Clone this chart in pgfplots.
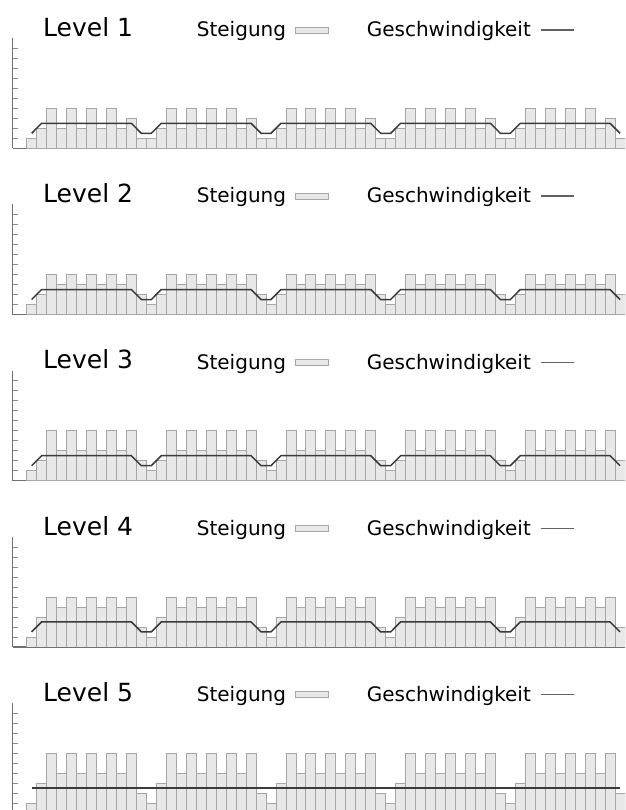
\documentclass[border=0pt]{standalone}
\usepackage{fontspec}
\setmainfont{DejaVu Sans}
\usepackage{pgfplots}
\usepackage{pgfplotstable}
\pgfplotsset{compat=1.18}

\definecolor{barfill}{HTML}{E8E8E8}
\definecolor{baredge}{HTML}{A6A6A6}
\definecolor{speed}{HTML}{3A3A3A}
\definecolor{axisgray}{HTML}{707070}
\definecolor{tickgray}{HTML}{8C8C8C}

\newcommand\titlefont{\fontsize{25}{30}\selectfont}
\newcommand\legfont{\fontsize{20}{24}\selectfont}

% x: Abschnitt, L1..L5: Steigung je Level, v: Geschwindigkeit (Level 1-4), vf: Level 5
\pgfplotstableread{
x  L1 L2 L3 L4 L5 v   vf
0  1  1  1  1  1  1.5 2.5
1  2  2  2  3  3  2.5 2.5
2  4  4  5  5  6  2.5 2.5
3  2  3  3  4  4  2.5 2.5
4  4  4  5  5  6  2.5 2.5
5  2  3  3  4  4  2.5 2.5
6  4  4  5  5  6  2.5 2.5
7  2  3  3  4  4  2.5 2.5
8  4  4  5  5  6  2.5 2.5
9  2  3  3  4  4  2.5 2.5
10 3  4  5  5  6  2.5 2.5
11 1  2  2  2  2  1.5 2.5
12 1  1  1  1  1  1.5 2.5
13 2  2  2  3  3  2.5 2.5
14 4  4  5  5  6  2.5 2.5
15 2  3  3  4  4  2.5 2.5
16 4  4  5  5  6  2.5 2.5
17 2  3  3  4  4  2.5 2.5
18 4  4  5  5  6  2.5 2.5
19 2  3  3  4  4  2.5 2.5
20 4  4  5  5  6  2.5 2.5
21 2  3  3  4  4  2.5 2.5
22 3  4  5  5  6  2.5 2.5
23 1  2  2  2  2  1.5 2.5
24 1  1  1  1  1  1.5 2.5
25 2  2  2  3  3  2.5 2.5
26 4  4  5  5  6  2.5 2.5
27 2  3  3  4  4  2.5 2.5
28 4  4  5  5  6  2.5 2.5
29 2  3  3  4  4  2.5 2.5
30 4  4  5  5  6  2.5 2.5
31 2  3  3  4  4  2.5 2.5
32 4  4  5  5  6  2.5 2.5
33 2  3  3  4  4  2.5 2.5
34 3  4  5  5  6  2.5 2.5
35 1  2  2  2  2  1.5 2.5
36 1  1  1  1  1  1.5 2.5
37 2  2  2  3  3  2.5 2.5
38 4  4  5  5  6  2.5 2.5
39 2  3  3  4  4  2.5 2.5
40 4  4  5  5  6  2.5 2.5
41 2  3  3  4  4  2.5 2.5
42 4  4  5  5  6  2.5 2.5
43 2  3  3  4  4  2.5 2.5
44 4  4  5  5  6  2.5 2.5
45 2  3  3  4  4  2.5 2.5
46 3  4  5  5  6  2.5 2.5
47 1  2  2  2  2  1.5 2.5
48 1  1  1  1  1  1.5 2.5
49 2  2  2  3  3  2.5 2.5
50 4  4  5  5  6  2.5 2.5
51 2  3  3  4  4  2.5 2.5
52 4  4  5  5  6  2.5 2.5
53 2  3  3  4  4  2.5 2.5
54 4  4  5  5  6  2.5 2.5
55 2  3  3  4  4  2.5 2.5
56 4  4  5  5  6  2.5 2.5
57 2  3  3  4  4  2.5 2.5
58 3  4  5  5  6  2.5 2.5
59 1  2  2  2  2  1.5 2.5
}\profil

\pgfplotsset{
  level/.style={
    scale only axis, width=612.3pt, height=110pt,
    xmin=-1.9, xmax=59.5, ymin=0, ymax=11,
    axis lines*=left,
    axis line style={draw=axisgray, line width=1.5pt},
    xtick=\empty, ytick={1,...,10}, yticklabels={},
    tick align=inside, major tick length=5pt,
    ytick style={draw=tickgray, line width=0.8pt},
    every axis title shift=0pt,
    title style={at={(0.0495,1.016)}, anchor=base west, inner sep=0pt, font=\titlefont},
    legend plot pos=right,
    legend style={at={(0.3005,1.076)}, anchor=west, draw=none, fill=none,
      legend columns=-1, inner sep=0pt, nodes={inner sep=0pt}, font=\legfont,
      /tikz/every odd column/.append style={column sep=9pt},
      /tikz/every even column/.append style={column sep=38pt}},
  },
  steigung/.style={ybar, bar width=1, bar shift=0pt, fill=barfill, draw=baredge, line width=0.8pt,
    legend image code/.code={\draw[fill=barfill, draw=baredge, line width=0.8pt] (0pt,-3pt) rectangle (33pt,3pt);}},
  tempo/.style={sharp plot, no marks, draw=speed, line width=1.5pt,
    legend image code/.code={\draw[draw=speed!80, line width=1.4pt] (0pt,0pt) -- (33pt,0pt);}},
}

\begin{document}
\begin{tikzpicture}
\useasboundingbox (0,0) rectangle (625pt,-810pt);

\begin{axis}[level, at={(12.7pt,-148.3pt)}, anchor=south west, title={Level 1}]
\addplot[steigung] table[x=x, y=L1] {\profil};
\addplot[tempo] table[x=x, y=v] {\profil};
\legend{Steigung, Geschwindigkeit}
\end{axis}

\begin{axis}[level, at={(12.7pt,-314.5pt)}, anchor=south west, title={Level 2}]
\addplot[steigung] table[x=x, y=L2] {\profil};
\addplot[tempo] table[x=x, y=v] {\profil};
\legend{Steigung, Geschwindigkeit}
\end{axis}

\begin{axis}[level, at={(12.7pt,-480.7pt)}, anchor=south west, title={Level 3}]
\addplot[steigung] table[x=x, y=L3] {\profil};
\addplot[tempo] table[x=x, y=v] {\profil};
\legend{Steigung, Geschwindigkeit}
\end{axis}

\begin{axis}[level, at={(12.7pt,-646.9pt)}, anchor=south west, title={Level 4}]
\addplot[steigung] table[x=x, y=L4] {\profil};
\addplot[tempo] table[x=x, y=v] {\profil};
\legend{Steigung, Geschwindigkeit}
\end{axis}

\begin{axis}[level, at={(12.7pt,-813.1pt)}, anchor=south west, title={Level 5}]
\addplot[steigung] table[x=x, y=L5] {\profil};
\addplot[tempo] table[x=x, y=vf] {\profil};
\legend{Steigung, Geschwindigkeit}
\end{axis}
\end{tikzpicture}
\end{document}
